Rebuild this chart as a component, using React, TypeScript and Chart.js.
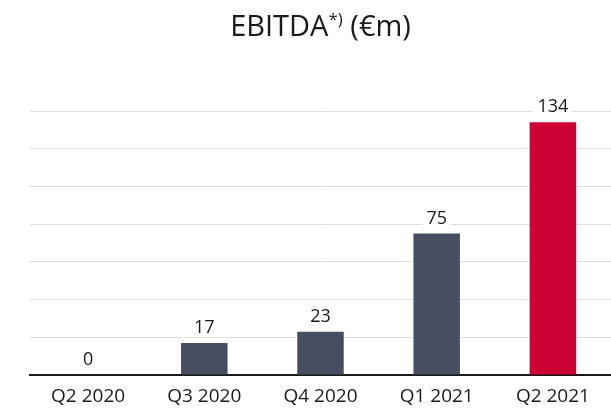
import { useEffect, useRef } from "react";
import { Chart, registerables } from "chart.js";

Chart.register(...registerables);

const categories = ["Q2 2020", "Q3 2020", "Q4 2020", "Q1 2021", "Q2 2021"];
const values = [0, 17, 23, 75, 134];
const barColors = ["#474e61", "#474e61", "#474e61", "#474e61", "#cc0033"];
const titleMain = "EBITDA";
const titleSup = "*)";
const titleRest = " (€m)";
const yMax = 140;
const yStep = 20;

const FONT = "'Open Sans', 'Noto Sans', sans-serif";
const TEXT = "#1a1a1a";

const labelPlugin = {
  id: "valueLabels",
  afterDatasetsDraw(chart: any) {
    const ctx = chart.ctx;
    const meta = chart.getDatasetMeta(0);
    ctx.save();
    ctx.font = `18px ${FONT}`;
    ctx.textAlign = "center";
    ctx.textBaseline = "alphabetic";
    meta.data.forEach((bar: any, i: number) => {
      const txt = String(values[i]);
      const w = ctx.measureText(txt).width;
      const x = bar.x;
      const y = bar.y - 10;
      ctx.fillStyle = "#ffffff";
      ctx.fillRect(x - w / 2 - 4, y - 15, w + 8, 18);
      ctx.fillStyle = TEXT;
      ctx.fillText(txt, x, y);
    });
    ctx.restore();
  },
};

const titlePlugin = {
  id: "supTitle",
  afterDraw(chart: any) {
    const ctx = chart.ctx;
    const area = chart.chartArea;
    ctx.save();
    ctx.fillStyle = TEXT;
    ctx.textBaseline = "alphabetic";
    ctx.textAlign = "left";
    const mainFont = `29px ${FONT}`;
    const supFont = `17px ${FONT}`;
    ctx.font = mainFont;
    const w1 = ctx.measureText(titleMain).width;
    const w3 = ctx.measureText(titleRest).width;
    ctx.font = supFont;
    const w2 = ctx.measureText(titleSup).width;
    const total = w1 + w2 + w3;
    const cx = (area.left + area.right) / 2;
    let x = cx - total / 2;
    const base = 36;
    ctx.font = mainFont;
    ctx.fillText(titleMain, x, base);
    x += w1;
    ctx.font = supFont;
    ctx.fillText(titleSup, x, base - 11);
    x += w2;
    ctx.font = mainFont;
    ctx.fillText(titleRest, x, base);
    ctx.restore();
  },
};

export default function App() {
  const ref = useRef<HTMLCanvasElement | null>(null);

  useEffect(() => {
    if (!ref.current) return;
    const chart = new Chart(ref.current, {
      type: "bar",
      data: {
        labels: categories,
        datasets: [
          {
            data: values,
            backgroundColor: barColors,
            borderWidth: 0,
            categoryPercentage: 1,
            barPercentage: 0.4,
          },
        ],
      },
      options: {
        animation: false,
        responsive: false,
        devicePixelRatio: 1,
        layout: { padding: { left: 30, right: 0, top: 111, bottom: -6 } },
        plugins: {
          legend: { display: false },
          title: { display: false },
          tooltip: { enabled: false },
        },
        scales: {
          x: {
            grid: { display: false, drawTicks: false },
            border: { display: true, color: "#1a1a1a", width: 2 },
            ticks: {
              color: TEXT,
              font: { family: FONT, size: 19, lineHeight: 1 },
              padding: 12,
              maxRotation: 0,
            },
          },
          y: {
            min: 0,
            max: yMax,
            ticks: { display: false, stepSize: yStep },
            grid: {
              drawTicks: false,
              color: (c: any) => (c.tick && c.tick.value === 0 ? "rgba(0,0,0,0)" : "#dedede"),
              lineWidth: 1,
            },
            border: { display: false },
          },
        },
      },
      plugins: [labelPlugin, titlePlugin],
    });
    return () => chart.destroy();
  }, []);

  return (
    <div style={{ position: "fixed", left: 0, top: 0, width: 611, height: 412, background: "#fff" }}>
      <canvas ref={ref} width={611} height={412} style={{ display: "block" }} />
    </div>
  );
}
